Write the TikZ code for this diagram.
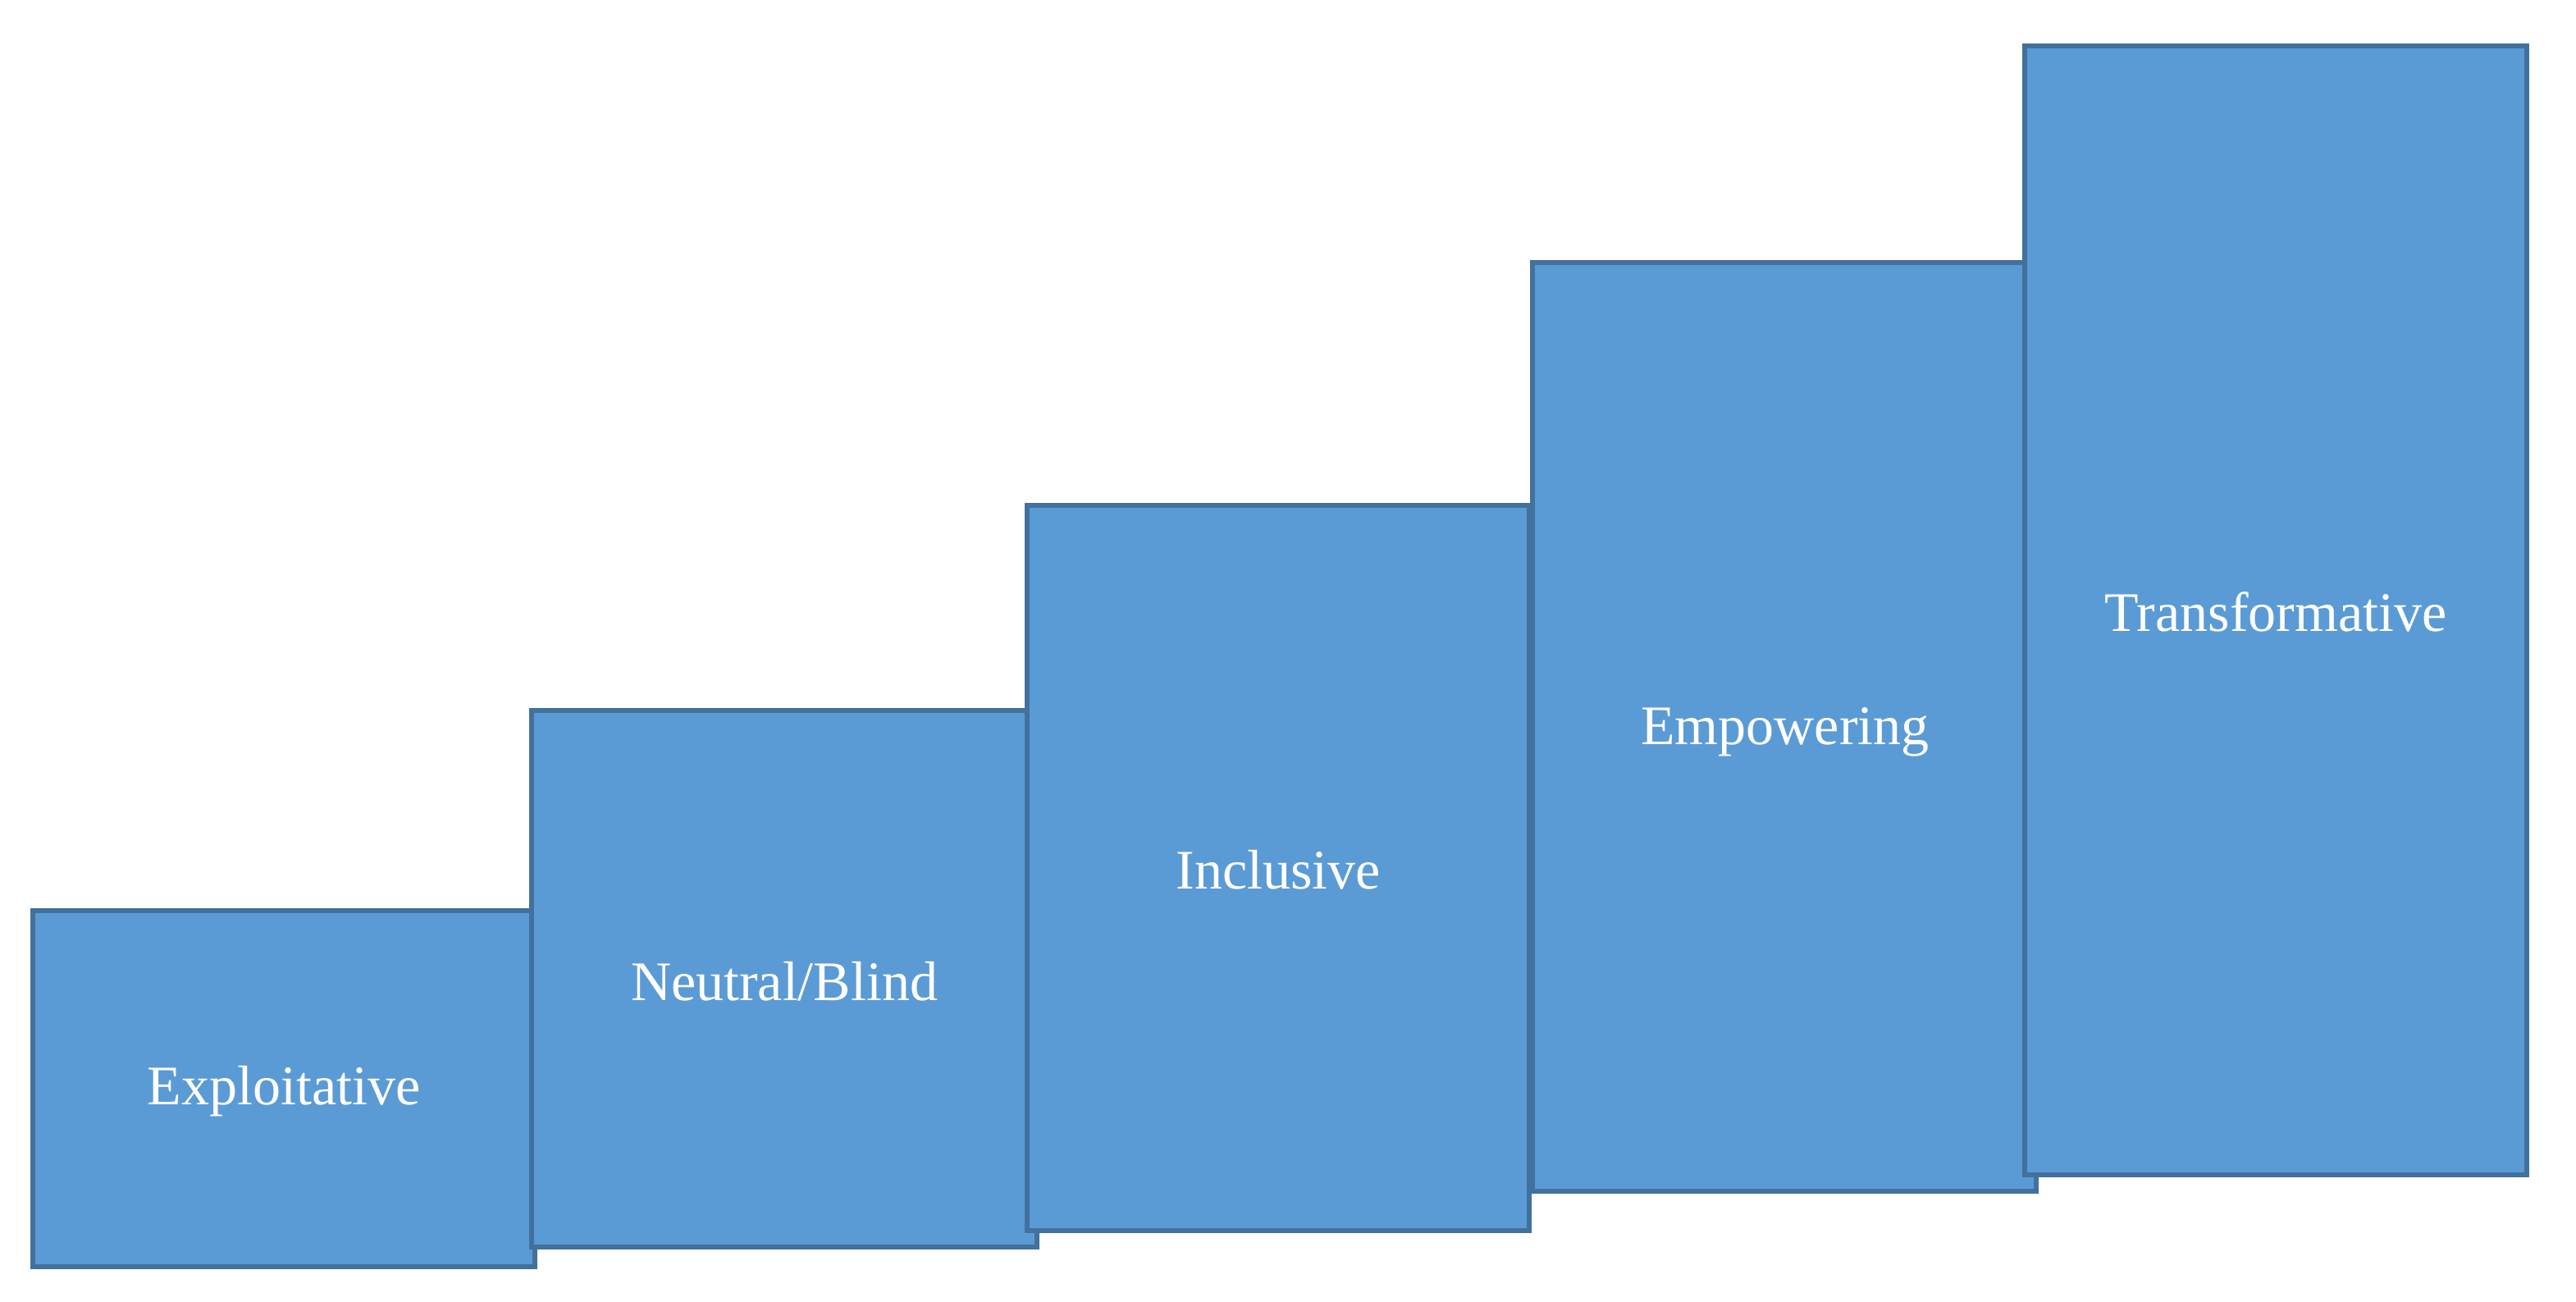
\documentclass[tikz,border=0pt]{standalone}
\usepackage{fontspec}
\setmainfont{Liberation Serif}
\definecolor{boxfill}{HTML}{5B9BD5}
\definecolor{boxline}{HTML}{41719C}
\begin{document}
\begin{tikzpicture}[x=1pt,y=-1pt]
\tikzset{stepbox/.style={fill=boxfill,draw=boxline,line width=3pt},
lbl/.style={text=white,font=\fontsize{34}{40}\selectfont}}
\useasboundingbox (0,0) rectangle (1570,793);
\draw[stepbox] (20,555) rectangle (326,772);
\node[lbl] (a) at (173,665) {Exploitative};
\draw[stepbox] (324,433) rectangle (632,760);
\node[lbl] (b) at (478,598) {Neutral/Blind};
\draw[stepbox] (626,308) rectangle (932,750);
\node[lbl] (c) at (779,530) {Inclusive};
\draw[stepbox] (934,160) rectangle (1241,726);
\node[lbl] (d) at (1088,446) {Empowering};
\draw[stepbox] (1234,28) rectangle (1540,716);
\node[lbl] (e) at (1387,373) {Transformative};
\end{tikzpicture}
\end{document}
